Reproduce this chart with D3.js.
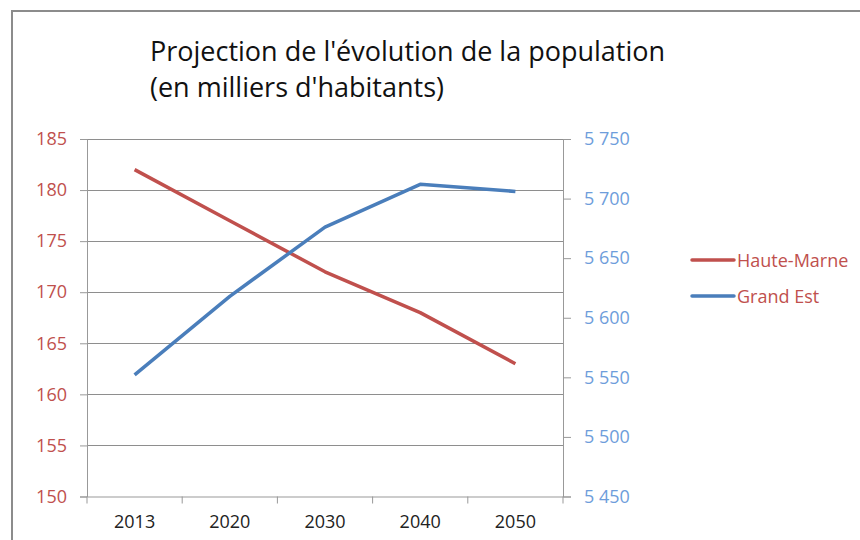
<!DOCTYPE html>
<html>
<head>
<meta charset="utf-8">
<script src="https://cdn.jsdelivr.net/npm/d3@7"></script>
<style>
	body { margin: 0; background: #fff; }
	text { font-family: "Open Sans", sans-serif; }
</style>
</head>
<body>
<div id="chart"></div>
<script>
var years = ["2013", "2020", "2030", "2040", "2050"];
var hauteMarne = [182, 177, 172, 168, 163];
var grandEst = [5552, 5618, 5676, 5712, 5706];
var leftTicks = [150, 155, 160, 165, 170, 175, 180, 185];
var rightTicks = [5450, 5500, 5550, 5600, 5650, 5700, 5750];
var seriesNames = ["Haute-Marne", "Grand Est"];

(function() {
	var width = 860,
		height = 540;

	var red = "#C0504D", blue = "#4A7EBB";

	var svg = d3.select("#chart")
		.append("svg")
		.attr("width", width)
		.attr("height", height);

	// chart frame (only top and left edges visible)
	svg.append("path")
		.attr("d", "M12,545 L12,11 L870,11")
		.attr("fill", "none")
		.attr("stroke", "#8c8c8c")
		.attr("stroke-width", 2);

	// title
	var title = svg.append("text")
		.attr("x", 150)
		.attr("font-size", 27)
		.attr("fill", "#111");
	title.append("tspan").attr("x", 150).attr("y", 61).text("Projection de l'évolution de la population");
	title.append("tspan").attr("x", 150).attr("y", 97).text("(en milliers d'habitants)");

	var x = d3.scaleBand().domain(years).range([87, 563]);
	var yLeft = d3.scaleLinear().domain([150, 185]).range([496.5, 139]);
	var yRight = d3.scaleLinear().domain([5450, 5750]).range([496.5, 139]);

	var fr = d3.formatLocale({ decimal: ",", thousands: " ", grouping: [3], currency: ["", " €"] });

	// gridlines
	svg.append("g")
		.selectAll("line")
		.data(leftTicks.slice(1))
		.enter().append("line")
		.attr("x1", 87)
		.attr("x2", 563)
		.attr("y1", function(d) { return Math.round(yLeft(d)) + 0.5; })
		.attr("y2", function(d) { return Math.round(yLeft(d)) + 0.5; })
		.attr("stroke", "#8e8e8e")
		.attr("stroke-width", 1);

	// left axis
	var gl = svg.append("g")
		.attr("transform", "translate(87,0)")
		.call(d3.axisLeft(yLeft).tickValues(leftTicks).tickSize(7).tickPadding(13));
	gl.selectAll("text").attr("fill", red).attr("font-size", 18).attr("font-family", "Open Sans");

	// right axis
	var gr = svg.append("g")
		.attr("transform", "translate(563,0)")
		.call(d3.axisRight(yRight).tickValues(rightTicks).tickSize(8).tickPadding(13).tickFormat(fr.format(",")));
	gr.selectAll("text").attr("fill", "#6E9DDB").attr("font-size", 18).attr("font-family", "Open Sans");

	// bottom axis
	var gb = svg.append("g")
		.attr("transform", "translate(0,496.5)")
		.call(d3.axisBottom(x).tickSize(0).tickPadding(19));
	gb.selectAll("text").attr("fill", "#222").attr("font-size", 18).attr("font-family", "Open Sans");
	gb.selectAll(".band-tick")
		.data(d3.range(years.length + 1))
		.enter().append("line")
		.attr("x1", function(i) { return 87 + i * x.bandwidth(); })
		.attr("x2", function(i) { return 87 + i * x.bandwidth(); })
		.attr("y1", 0)
		.attr("y2", 7)
		.attr("stroke", "#999");

	[gl, gr, gb].forEach(function(g) {
		g.selectAll(".domain").attr("stroke", "#999");
		g.selectAll(".tick line").attr("stroke", "#999");
	});

	var lineLeft = d3.line()
		.x(function(d, i) { return x(years[i]) + x.bandwidth() / 2; })
		.y(function(d) { return yLeft(d); });
	var lineRight = d3.line()
		.x(function(d, i) { return x(years[i]) + x.bandwidth() / 2; })
		.y(function(d) { return yRight(d); });

	svg.append("path")
		.datum(hauteMarne)
		.attr("d", lineLeft)
		.attr("fill", "none")
		.attr("stroke", red)
		.attr("stroke-width", 3.5)
		.attr("stroke-linejoin", "round");

	svg.append("path")
		.datum(grandEst)
		.attr("d", lineRight)
		.attr("fill", "none")
		.attr("stroke", blue)
		.attr("stroke-width", 3.5)
		.attr("stroke-linejoin", "round");

	// legend
	var legend = svg.append("g")
		.selectAll("g")
		.data(seriesNames)
		.enter().append("g")
		.attr("transform", function(d, i) { return "translate(692," + (260 + i * 36) + ")"; });
	legend.append("line")
		.attr("x1", 0)
		.attr("x2", 42)
		.attr("stroke", function(d, i) { return i === 0 ? red : blue; })
		.attr("stroke-width", 3.5)
		.attr("stroke-linecap", "round");
	legend.append("text")
		.attr("x", 45)
		.attr("y", 6.5)
		.attr("font-size", 18)
		.attr("fill", red)
		.text(function(d) { return d; });
})();
</script>
</body>
</html>
